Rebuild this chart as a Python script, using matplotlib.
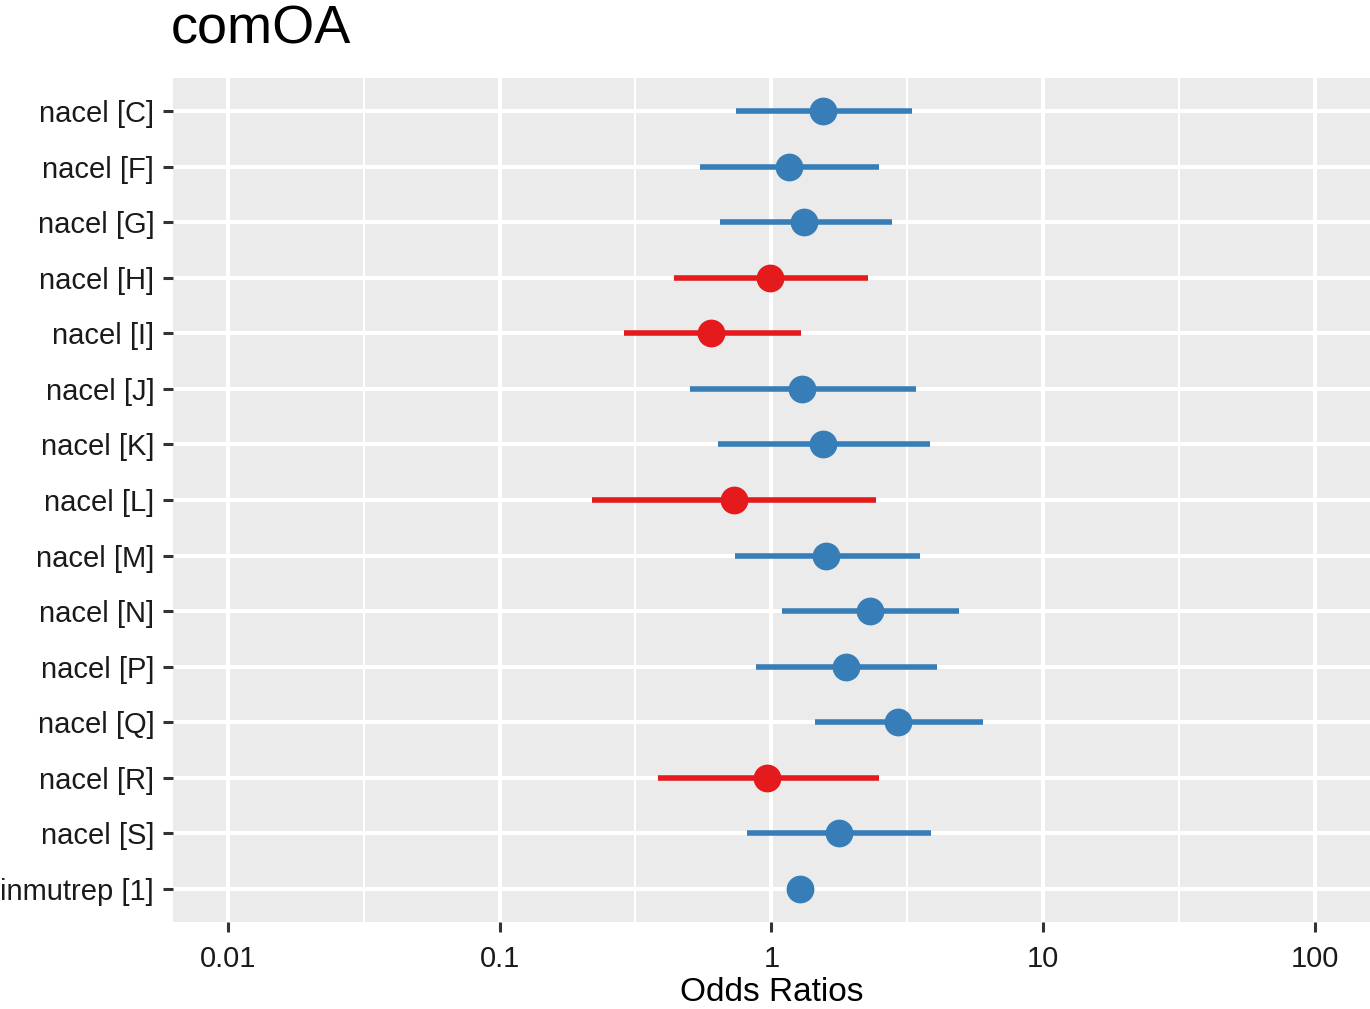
import numpy as np
import matplotlib.pyplot as plt
from matplotlib.ticker import FixedLocator, NullFormatter

plt.rcParams['font.family'] = ['Liberation Sans', 'DejaVu Sans']

# odds ratios with 95% CI
terms = ['nacel [C]', 'nacel [F]', 'nacel [G]', 'nacel [H]', 'nacel [I]',
         'nacel [J]', 'nacel [K]', 'nacel [L]', 'nacel [M]', 'nacel [N]',
         'nacel [P]', 'nacel [Q]', 'nacel [R]', 'nacel [S]', 'inmutrep [1]']
estimate = [1.55, 1.165, 1.32, 0.99, 0.601, 1.30, 1.55, 0.731, 1.59, 2.30,
            1.89, 2.93, 0.967, 1.78, 1.27]
conf_low = [0.743, 0.548, 0.649, 0.44, 0.288, 0.503, 0.638, 0.219, 0.737, 1.09,
            0.88, 1.45, 0.384, 0.816, 1.145]
conf_high = [3.30, 2.50, 2.77, 2.27, 1.29, 3.42, 3.85, 2.43, 3.51, 4.92,
             4.08, 6.03, 2.50, 3.88, 1.44]

blue = '#377EB8'
red = '#E41A1C'

fig = plt.figure(figsize=(13.7, 10.09), dpi=100)
ax = fig.add_axes([173/1370, 1 - 922/1009, (1370-173)/1370, (922-78)/1009])
ax.set_facecolor('#EBEBEB')

ypos = np.arange(len(terms))
for i in range(len(terms)):
    c = blue if estimate[i] > 1 else red
    ax.plot([conf_low[i], conf_high[i]], [ypos[i], ypos[i]], color=c, lw=4.0,
            solid_capstyle='butt', zorder=3)
    ax.plot(estimate[i], ypos[i], 'o', color=c, ms=20, mew=0, zorder=4)

ax.set_xscale('log')
ax.set_xlim(10**-2.202, 10**2.203)
ax.set_ylim(len(terms) - 0.4, -0.6)

major = [0.01, 0.1, 1, 10, 100]
ax.xaxis.set_major_locator(FixedLocator(major))
ax.set_xticklabels(['0.01', '0.1', '1', '10', '100'])
ax.xaxis.set_minor_locator(FixedLocator([10**-1.5, 10**-0.5, 10**0.5, 10**1.5]))
ax.xaxis.set_minor_formatter(NullFormatter())
ax.set_yticks(ypos)
ax.set_yticklabels(terms)

ax.grid(which='major', color='white', lw=2.9)
ax.grid(which='minor', axis='x', color='white', lw=1.45)
ax.set_axisbelow(True)
for s in ax.spines.values():
    s.set_visible(False)

ax.tick_params(which='major', length=7.5, width=2.2, color='#333333',
               labelsize=21, labelcolor='#1A1A1A')
ax.tick_params(axis='y', pad=6)
ax.tick_params(axis='x', pad=9)
ax.tick_params(which='minor', length=0)

ax.set_xlabel('Odds Ratios', fontsize=24, labelpad=3)
fig.text(171/1370, 1 - 29/1009, 'comOA', fontsize=39, va='center', ha='left')

fig.savefig('out.png', dpi=100)
